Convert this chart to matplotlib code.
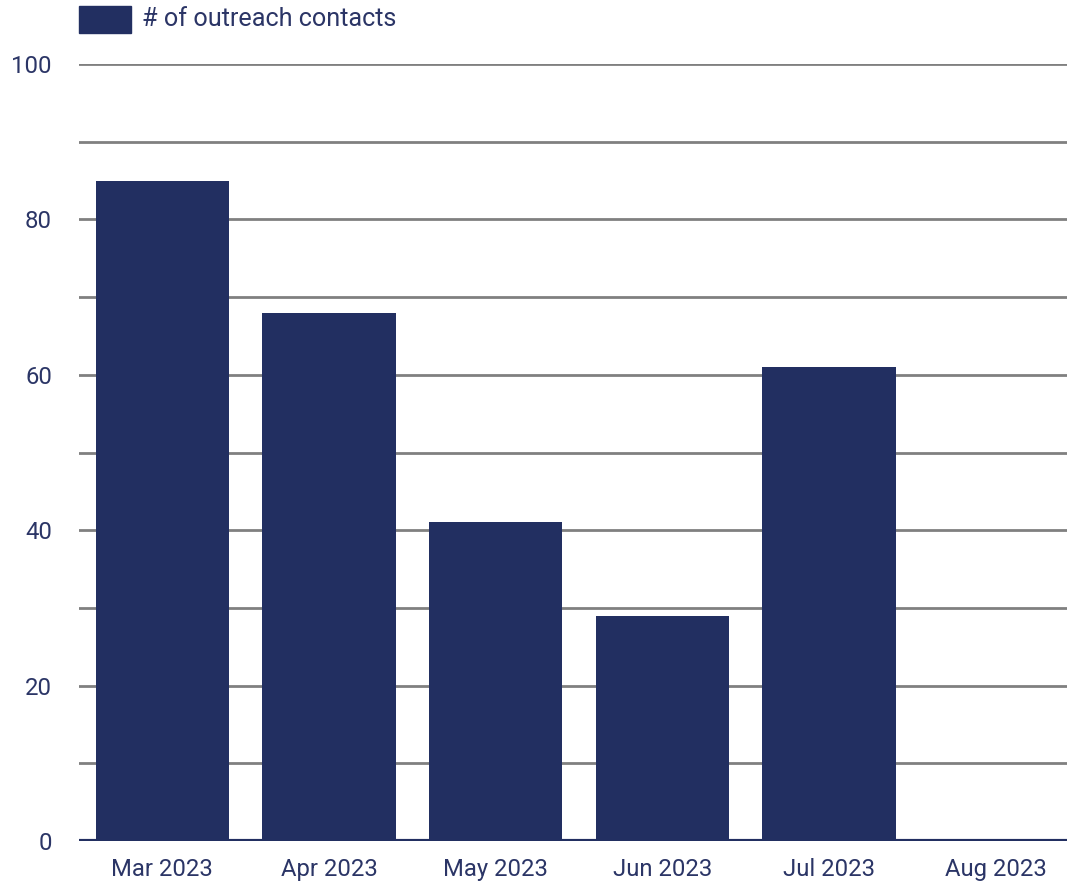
import matplotlib.pyplot as plt
from matplotlib.patches import Rectangle

plt.rcParams['font.family'] = ['Roboto', 'DejaVu Sans']

months = ['Mar 2023', 'Apr 2023', 'May 2023', 'Jun 2023', 'Jul 2023', 'Aug 2023']
contacts = [85, 68, 41, 29, 61, 0]
series_name = '# of outreach contacts'

navy = '#222f61'
text_col = '#2b3566'
grid_col = '#808080'

W, H = 1067, 883
fig = plt.figure(figsize=(W / 100, H / 100), dpi=100)
ax = fig.add_axes([79 / W, 42 / H, 1000 / W, 777 / H])

ax.bar(range(len(months)), contacts, width=0.8, color=navy, zorder=3)

ax.set_xlim(-0.5, len(months) - 0.5)
ax.set_ylim(0, 100)
ax.set_yticks(range(0, 101, 20))
ax.set_yticks(range(0, 101, 10), minor=True)
ax.set_xticks(range(len(months)))
ax.set_xticklabels(months)

ax.grid(axis='y', which='both', color=grid_col, linewidth=2, zorder=0)
ax.axhline(0, color=navy, linewidth=3, zorder=4)

for s in ax.spines.values():
    s.set_visible(False)
ax.tick_params(axis='both', which='both', length=0, colors=text_col, labelsize=17.2)
ax.tick_params(axis='y', pad=19.5)
ax.tick_params(axis='x', pad=12)

# legend drawn by hand: swatch + label above the plot
fig.add_artist(Rectangle((79 / W, 1 - 33 / H), 52 / W, 27 / H,
                         transform=fig.transFigure, color=navy))
fig.text(142 / W, 1 - 19.5 / H, series_name, color=text_col,
         fontsize=18.2, va='center', ha='left')

fig.savefig('out.png', dpi=100)
